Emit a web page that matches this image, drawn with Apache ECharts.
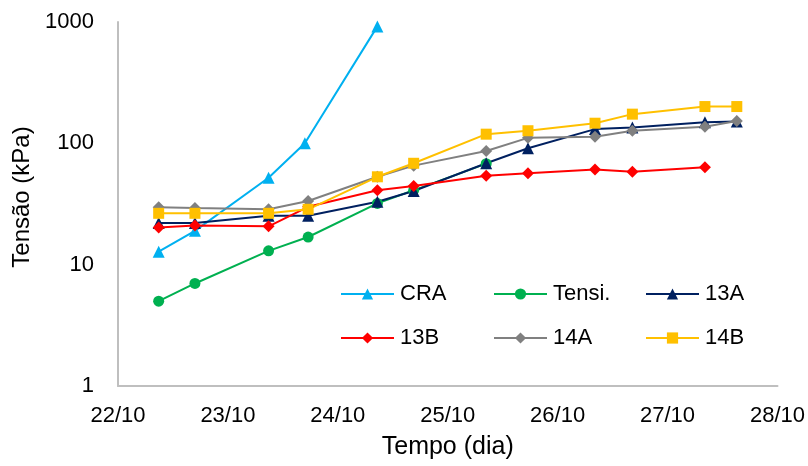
<!DOCTYPE html>
<html>
<head>
<meta charset="utf-8">
<script src="https://cdn.jsdelivr.net/npm/echarts@6/dist/echarts.min.js"></script>
<style>
html,body{margin:0;padding:0;background:#fff;}
#chart{width:808px;height:466px;}
</style>
</head>
<body>
<div id="chart"></div>
<script>
// Tick labels for x axis (day offsets 0..6 from 22/10)
const dateLabels = ['22/10','23/10','24/10','25/10','26/10','27/10','28/10'];
// Measurement times (day offset from 22/10 00:00)
const craTimes = [0.37, 0.70, 1.37, 1.70, 2.36];
const times = [0.37, 0.70, 1.37, 1.73, 2.36, 2.69, 3.35, 3.73, 4.34, 4.68, 5.34, 5.63];
// Series values (kPa)
const craValues   = [12.8, 19, 52, 100, 920];
const tensiValues = [5.0, 7.0, 13.0, 16.9, 32, 41, 68];
const a13Values   = [22, 22, 25.3, 25.3, 33, 40.5, 68.5, 91, 131, 135, 149, 151];
const b13Values   = [20.2, 21, 20.7, 30, 41, 44.5, 54, 56.7, 61, 58.4, 63.5];
const a14Values   = [29.7, 29.3, 28.6, 33.5, 53, 65.5, 86.5, 111, 113.5, 127, 137, 153];
const b14Values   = [26.5, 26.5, 26.5, 28.6, 53, 68.5, 119, 127, 146.5, 174, 201, 201];

function pairs(xs, ys){ return ys.map((v,i)=>[xs[i], v]); }

const font = 'Liberation Sans, Arial, sans-serif';
const chart = echarts.init(document.getElementById('chart'), null, {renderer:'canvas'});

function mkSeries(name, xs, ys, color, symbol, size){
  return {
    name, type:'line', data: pairs(xs, ys),
    symbol, symbolSize: size,
    lineStyle:{color, width:2},
    itemStyle:{color},
    emphasis:{disabled:true},
    animation:false
  };
}

function mkLegend(name, left, top){
  return {
    data:[name], left, top, orient:'horizontal',
    itemWidth:53, itemHeight:14, itemGap:0,
    padding:0,
    lineStyle:{width:2},
    textStyle:{fontFamily:font, fontSize:22, color:'#000', padding:[0,0,0,1]},
    selectedMode:false
  };
}

chart.setOption({
  backgroundColor:'#fff',
  animation:false,
  grid:{left:118, right:29, top:22, bottom:80, containLabel:false},
  legend:[
    mkLegend('CRA', 340, 283),
    mkLegend('Tensi.', 493, 283),
    mkLegend('13A', 645, 283),
    mkLegend('13B', 340, 327),
    mkLegend('14A', 493, 327),
    mkLegend('14B', 645, 327)
  ],
  xAxis:{
    type:'value', min:0, max:6, interval:1,
    name:'Tempo (dia)', nameLocation:'middle', nameGap:49,
    nameTextStyle:{fontFamily:font, fontSize:25, color:'#000'},
    axisLine:{show:true, lineStyle:{color:'#BFBFBF', width:2}},
    axisTick:{show:false},
    splitLine:{show:false},
    axisLabel:{fontFamily:font, fontSize:22, color:'#000', margin:19,
      formatter:(v)=>dateLabels[Math.round(v)]}
  },
  yAxis:{
    type:'log', logBase:10, min:1, max:1000,
    name:'Tensão (kPa)', nameLocation:'middle', nameGap:80,
    nameTextStyle:{fontFamily:font, fontSize:24, color:'#000', padding:[0,0,0,14]},
    axisLine:{show:true, lineStyle:{color:'#BFBFBF', width:2}},
    axisTick:{show:false},
    splitLine:{show:false},
    axisLabel:{fontFamily:font, fontSize:22, color:'#000', margin:24,
      formatter:(v)=>String(Math.round(v))}
  },
  series:[
    mkSeries('CRA', craTimes, craValues, '#00B0F0', 'triangle', 12),
    mkSeries('Tensi.', times, tensiValues, '#00B050', 'circle', 11),
    mkSeries('13A', times, a13Values, '#002060', 'triangle', 12),
    mkSeries('13B', times, b13Values, '#FF0000', 'diamond', 12),
    mkSeries('14A', times, a14Values, '#808080', 'diamond', 12),
    mkSeries('14B', times, b14Values, '#FFC000', 'rect', 11)
  ]
});
</script>
</body>
</html>
